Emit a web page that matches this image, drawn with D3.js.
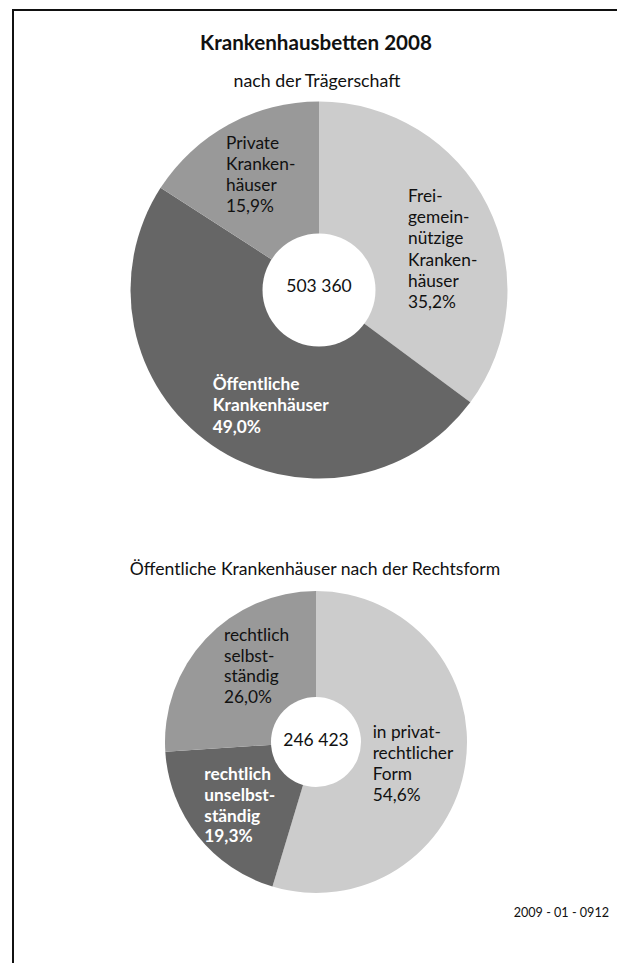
<!DOCTYPE html>
<html>
<head>
<meta charset="utf-8">
<script src="https://cdn.jsdelivr.net/npm/d3@7"></script>
<style>
  html, body { margin: 0; padding: 0; background: #fff; }
  svg { display: block; }
  text { font-family: Lato, "Noto Sans", sans-serif; }
</style>
</head>
<body>
<svg id="chart" width="617" height="963"></svg>
<script>
// ---- Data ----
const title = "Krankenhausbetten 2008";
const subtitle1 = "nach der Trägerschaft";
const subtitle2 = "Öffentliche Krankenhäuser nach der Rechtsform";
const footer = "2009 - 01 - 0912";

const traegerCategories = ["Freigemeinnützige Krankenhäuser", "Öffentliche Krankenhäuser", "Private Krankenhäuser"];
const traegerValues = [35.2, 49.0, 15.9];
const traegerTotal = "503 360";
const traegerLabelLines = [
  ["Frei-", "gemein-", "nützige", "Kranken-", "häuser", "35,2%"],
  ["Öffentliche", "Krankenhäuser", "49,0%"],
  ["Private", "Kranken-", "häuser", "15,9%"]
];

const rechtsformCategories = ["in privatrechtlicher Form", "rechtlich unselbstständig", "rechtlich selbstständig"];
const rechtsformValues = [54.6, 19.3, 26.0];
const rechtsformTotal = "246 423";
const rechtsformLabelLines = [
  ["in privat-", "rechtlicher", "Form", "54,6%"],
  ["rechtlich", "unselbst-", "ständig", "19,3%"],
  ["rechtlich", "selbst-", "ständig", "26,0%"]
];

// ---- Styles ----
const fills = ["#cccccc", "#666666", "#999999"];
const textFills = ["#111111", "#ffffff", "#111111"];
const textWeights = ["normal", "bold", "normal"];

const svg = d3.select("#chart");

// frame
svg.append("rect")
  .attr("x", 13).attr("y", 10)
  .attr("width", 700).attr("height", 1000)
  .attr("fill", "none").attr("stroke", "#111").attr("stroke-width", 2);

svg.append("text").attr("x", 316).attr("y", 49.5)
  .attr("text-anchor", "middle").attr("font-size", 20.6).attr("font-weight", "bold")
  .attr("fill", "#111").text(title);

svg.append("text").attr("x", 317).attr("y", 87.3)
  .attr("text-anchor", "middle").attr("font-size", 17.8)
  .attr("fill", "#111").text(subtitle1);

svg.append("text").attr("x", 315).attr("y", 575)
  .attr("text-anchor", "middle").attr("font-size", 17.6)
  .attr("fill", "#111").text(subtitle2);

svg.append("text").attr("x", 609).attr("y", 917)
  .attr("text-anchor", "end").attr("font-size", 12.6)
  .attr("fill", "#111").text(footer);

function drawDonut(cfg) {
  const g = svg.append("g").attr("transform", `translate(${cfg.cx},${cfg.cy})`);
  const pie = d3.pie().sort(null).value(d => d);
  const arcs = pie(cfg.values);
  const arc = d3.arc().innerRadius(0).outerRadius(cfg.r);
  g.selectAll("path.slice").data(arcs).join("path")
    .attr("class", "slice")
    .attr("d", arc)
    .attr("fill", (d, i) => fills[i]);
  g.append("circle").attr("r", cfg.hole).attr("fill", "#fff");
  g.append("text").attr("x", 0).attr("y", cfg.totalDy)
    .attr("text-anchor", "middle").attr("font-size", cfg.totalSize)
    .attr("fill", "#111").text(cfg.total);

  cfg.labels.forEach((lines, i) => {
    const pos = cfg.labelPos[i];
    const t = g.append("text")
      .attr("font-size", cfg.labelSize)
      .attr("font-weight", textWeights[i])
      .attr("fill", textFills[i]);
    lines.forEach((ln, j) => {
      t.append("tspan").attr("x", pos[0]).attr("y", pos[1] + j * cfg.lineH).text(ln);
    });
  });
}

drawDonut({
  cx: 319, cy: 290, r: 188.5, hole: 56.5,
  values: traegerValues, total: traegerTotal, totalDy: 2, totalSize: 17.5,
  labels: traegerLabelLines, labelSize: 17.3, lineH: 21.3,
  labelPos: [[408 - 319, 201.7 - 290], [212.7 - 319, 390 - 290], [226 - 319, 148.5 - 290]]
});

drawDonut({
  cx: 316, cy: 742, r: 151, hole: 45,
  values: rechtsformValues, total: rechtsformTotal, totalDy: 4, totalSize: 17.5,
  labels: rechtsformLabelLines, labelSize: 17.3, lineH: 20.8,
  labelPos: [[372.7 - 316, 738.3 - 742], [204.3 - 316, 780 - 742], [224 - 316, 640.7 - 742]]
});
</script>
</body>
</html>
